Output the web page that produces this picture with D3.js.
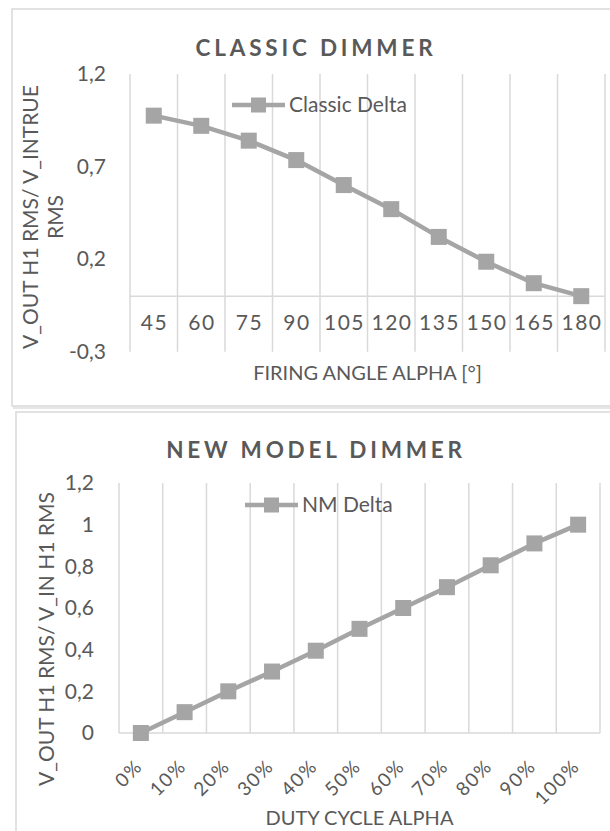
<!DOCTYPE html>
<html>
<head>
<meta charset="utf-8">
<script src="https://cdn.jsdelivr.net/npm/d3@7"></script>
<style>
  html, body { margin: 0; padding: 0; background: #fff; }
  svg { display: block; }
  text { font-family: Lato, "Open Sans", sans-serif; fill: #595959; }
</style>
</head>
<body>
<svg id="chart" width="610" height="831"></svg>
<script>
// Classic dimmer: fundamental output ratio versus firing angle
const classicAngles = ["45", "60", "75", "90", "105", "120", "135", "150", "165", "180"];
const classicDelta = [0.975, 0.92, 0.84, 0.735, 0.60, 0.47, 0.32, 0.186, 0.07, 0.0];
const classicTicks = [-0.3, 0.2, 0.7, 1.2];

// New model dimmer: fundamental output ratio versus duty cycle
const dutyCycles = ["0%", "10%", "20%", "30%", "40%", "50%", "60%", "70%", "80%", "90%", "100%"];
const nmDelta = [0.0, 0.1, 0.2, 0.295, 0.395, 0.5, 0.6, 0.7, 0.805, 0.91, 1.0];
const nmTicks = [0, 0.2, 0.4, 0.6, 0.8, 1, 1.2];

const svg = d3.select("#chart");
const grid = "#d9d9d9";
const markColor = "#a5a5a5";
const fmt = v => String(Math.round(v * 10) / 10).replace(".", ",");

function panel(x, y, w, h) {
  // soft drop shadow below the frame, then the frame itself
  svg.append("rect").attr("x", x + 2).attr("y", y + 2).attr("width", w).attr("height", h)
    .attr("fill", "none").attr("stroke", "#e6e6e6").attr("stroke-width", 2);
  svg.append("rect").attr("x", x).attr("y", y).attr("width", w).attr("height", h)
    .attr("fill", "#fff").attr("stroke", grid).attr("stroke-width", 1.5);
}

function drawChart(o) {
  const g = svg.append("g");
  const x = d3.scaleBand().domain(o.categories).range([o.left, o.right]);
  const y = d3.scaleLinear().domain(o.yDomain).range([o.bottom, o.top]);

  // vertical gridlines on category boundaries
  const bounds = o.categories.map(c => x(c)).concat([o.right]);
  g.selectAll("line.vg").data(bounds).join("line")
    .attr("x1", d => d).attr("x2", d => d)
    .attr("y1", o.top).attr("y2", o.bottom)
    .attr("stroke", grid).attr("stroke-width", 1.5);

  // horizontal category axis at zero
  g.append("line").attr("x1", o.left).attr("x2", o.right)
    .attr("y1", y(0)).attr("y2", y(0))
    .attr("stroke", grid).attr("stroke-width", 1.5);

  // value axis labels
  const yAxis = d3.axisLeft(y).tickValues(o.ticks).tickFormat(fmt).tickSize(0).tickPadding(0);
  const ya = g.append("g").attr("transform", `translate(${o.tickX},0)`).call(yAxis);
  ya.select(".domain").remove();
  ya.selectAll("text").attr("font-size", o.tickFont).attr("fill", "#595959")
    .style("font-family", "Lato, sans-serif");

  // category labels
  const xl = g.selectAll("text.cat").data(o.categories).join("text")
    .attr("class", "cat")
    .attr("font-size", o.catFont)
    .attr("letter-spacing", o.catSpacing);
  if (o.rotate) {
    xl.attr("text-anchor", "end")
      .attr("transform", d => `translate(${x(d) + x.bandwidth() / 2 + o.catDx},${o.catY}) rotate(-45)`)
      .attr("dy", "0.35em")
      .text(d => d);
  } else {
    xl.attr("text-anchor", "middle")
      .attr("x", d => x(d) + x.bandwidth() / 2 + o.catSpacing / 2)
      .attr("y", o.catY).attr("dy", "0.35em")
      .text(d => d);
  }

  // titles
  g.append("text").attr("x", o.titleX).attr("y", o.titleY)
    .attr("text-anchor", "middle").attr("font-weight", 700)
    .attr("font-size", 22.5).attr("letter-spacing", 3.8)
    .text(o.title);
  g.append("text").attr("x", (o.left + o.right) / 2).attr("y", o.xTitleY)
    .attr("text-anchor", "middle").attr("font-size", o.axisFont)
    .attr("dy", "0.35em").text(o.xTitle);
  const yt = g.append("text").attr("text-anchor", "middle").attr("font-size", o.yTitleFont)
    .attr("transform", `translate(${o.yTitleX},${o.yTitleY}) rotate(-90)`);
  o.yTitle.forEach((line, i) => {
    yt.append("tspan").attr("x", 0).attr("dy", i === 0 ? "0.35em" : "1.15em").text(line);
  });

  // series line and square markers
  const pts = o.categories.map((c, i) => [x(c) + x.bandwidth() / 2, y(o.values[i])]);
  g.append("path").attr("d", d3.line()(pts))
    .attr("fill", "none").attr("stroke", markColor).attr("stroke-width", 4.5)
    .attr("stroke-linejoin", "round");
  const m = 16;
  g.selectAll("rect.mk").data(pts).join("rect")
    .attr("x", d => d[0] - m / 2).attr("y", d => d[1] - m / 2)
    .attr("width", m).attr("height", m).attr("fill", markColor);

  // legend
  const lg = g.append("g").attr("transform", `translate(${o.legendX},${o.legendY})`);
  lg.append("line").attr("x1", 0).attr("x2", 53).attr("y1", 0).attr("y2", 0)
    .attr("stroke", markColor).attr("stroke-width", 4.5);
  lg.append("rect").attr("x", 26.5 - 7.5).attr("y", -7.5).attr("width", 15).attr("height", 15)
    .attr("fill", markColor);
  lg.append("text").attr("x", 57).attr("y", 0).attr("dy", "0.35em")
    .attr("font-size", o.legendFont).text(o.legendLabel);
}

panel(12, 9, 640, 397);
panel(16, 412, 640, 440);

drawChart({
  categories: classicAngles, values: classicDelta, ticks: classicTicks,
  yDomain: [-0.3, 1.2], left: 130, right: 605, top: 74, bottom: 351.7,
  tickX: 106, tickFont: 21, catFont: 21, catSpacing: 1.5, catY: 323,
  title: "CLASSIC DIMMER", titleX: 316, titleY: 56,
  xTitle: "FIRING ANGLE ALPHA [°]", xTitleY: 373, axisFont: 20,
  yTitle: ["V_OUT H1 RMS/ V_INTRUE", "RMS"], yTitleX: 31, yTitleY: 217, yTitleFont: 21,
  legendX: 232, legendY: 105, legendFont: 21, legendLabel: "Classic Delta"
});

drawChart({
  categories: dutyCycles, values: nmDelta, ticks: nmTicks,
  yDomain: [0, 1.2], left: 119, right: 600, top: 483, bottom: 733,
  tickX: 94, tickFont: 21, catFont: 19, catSpacing: 1.5, catY: 763, catDx: -2, rotate: true,
  title: "NEW MODEL DIMMER", titleX: 316, titleY: 458,
  xTitle: "DUTY CYCLE ALPHA", xTitleY: 818, axisFont: 20,
  yTitle: ["V_OUT H1 RMS/ V_IN H1 RMS"], yTitleX: 47, yTitleY: 639, yTitleFont: 21,
  legendX: 245, legendY: 505, legendFont: 21, legendLabel: "NM Delta"
});
</script>
</body>
</html>
